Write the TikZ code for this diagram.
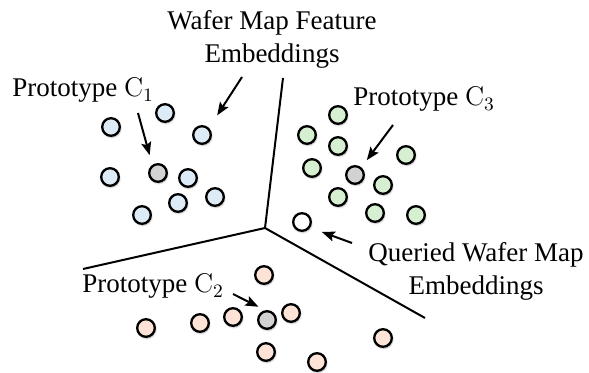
\RequirePackage{fix-cm}
\documentclass[tikz,border=0pt]{standalone}
\usepackage[no-math]{fontspec}
\setmainfont{Liberation Serif}
\usetikzlibrary{arrows.meta,shadows.blur}

\definecolor{embblue}{RGB}{221,235,247}
\definecolor{embgreen}{RGB}{214,239,208}
\definecolor{embpink}{RGB}{252,227,214}
\definecolor{protogray}{RGB}{210,210,210}

\begin{document}
\begin{tikzpicture}[x=0.5pt,y=-0.5pt,
  dot/.style={circle,draw=black,line width=1.15pt,minimum size=8.8pt,inner sep=0pt,
    blur shadow={shadow xshift=0.4pt,shadow yshift=-0.7pt,shadow blur radius=0.9pt,
      shadow blur steps=6,shadow opacity=35}},
  embA/.style={dot,fill=embblue},
  embB/.style={dot,fill=embgreen},
  embC/.style={dot,fill=embpink},
  proto/.style={dot,fill=protogray},
  query/.style={dot,fill=white},
  lbl/.style={font=\fontsize{13.5}{16.5}\selectfont,inner sep=0pt},
  pointer/.style={line width=1pt,-{Stealth[length=6.5pt,width=5pt,inset=1.2pt]}},
  divider/.style={line width=1pt}]

\useasboundingbox (0,0) rectangle (589,373);

% partition of the embedding space
\coordinate (j) at (265,228);
\coordinate (dtop) at (283,78);
\coordinate (dleft) at (83,269);
\coordinate (dright) at (425,318);
\draw[divider] (dtop) -- (j) -- (dleft);
\draw[divider] (j) -- (dright);

% cluster 1
\node[embA] (b1) at (111,127) {};
\node[embA] (b2) at (165,113) {};
\node[embA] (b3) at (202,135) {};
\node[embA] (b4) at (110,177) {};
\node[embA] (b5) at (188,178) {};
\node[embA] (b6) at (215,197) {};
\node[embA] (b7) at (178,203) {};
\node[embA] (b8) at (142,215) {};
\node[proto] (c1) at (158,173) {};

% cluster 3
\node[embB] (g1) at (338,115) {};
\node[embB] (g2) at (307,135) {};
\node[embB] (g3) at (338,146) {};
\node[embB] (g4) at (406,155) {};
\node[embB] (g5) at (312,168) {};
\node[embB] (g6) at (383,185) {};
\node[embB] (g7) at (338,197) {};
\node[embB] (g8) at (375,213) {};
\node[embB] (g9) at (416,215) {};
\node[proto] (c3) at (355,175) {};

% queried sample
\node[query] (q) at (302,222) {};

% cluster 2
\node[embC] (p1) at (264,275) {};
\node[embC] (p2) at (146,328) {};
\node[embC] (p3) at (200,323) {};
\node[embC] (p4) at (233,317) {};
\node[embC] (p5) at (291,313) {};
\node[embC] (p6) at (383,338) {};
\node[embC] (p7) at (266,352) {};
\node[embC] (p8) at (317,362) {};
\node[proto] (c2) at (267,320) {};

% labels
\node[lbl,anchor=base west] (l1) at (12,97) {Prototype $\mathrm{C}_1$};
\node[lbl,anchor=base west] (l3) at (353,106) {Prototype $\mathrm{C}_3$};
\node[lbl,anchor=base west] (l2) at (82,293) {Prototype $\mathrm{C}_2$};
\node[lbl,align=center,anchor=north] (lf) at (272,10) {Wafer Map Feature\\Embeddings};
\node[lbl,align=center,anchor=north] (lq) at (476,242) {Queried Wafer Map\\Embeddings};

% pointers
\coordinate (s1) at (138,113);
\coordinate (sf) at (242,77);
\coordinate (s3) at (393,125);
\coordinate (s2) at (233,294);
\coordinate (sq) at (352,243);
\draw[pointer,shorten >=5pt] (s1) -- (c1.125);
\draw[pointer,shorten >=7.5pt] (sf) -- (b3.45);
\draw[pointer,shorten >=4.5pt] (s3) -- (c3.50);
\draw[pointer,shorten >=3.8pt] (s2) -- (c2.100);
\draw[pointer,shorten >=6.2pt] (sq) -- (q.-35);
\end{tikzpicture}
\end{document}
